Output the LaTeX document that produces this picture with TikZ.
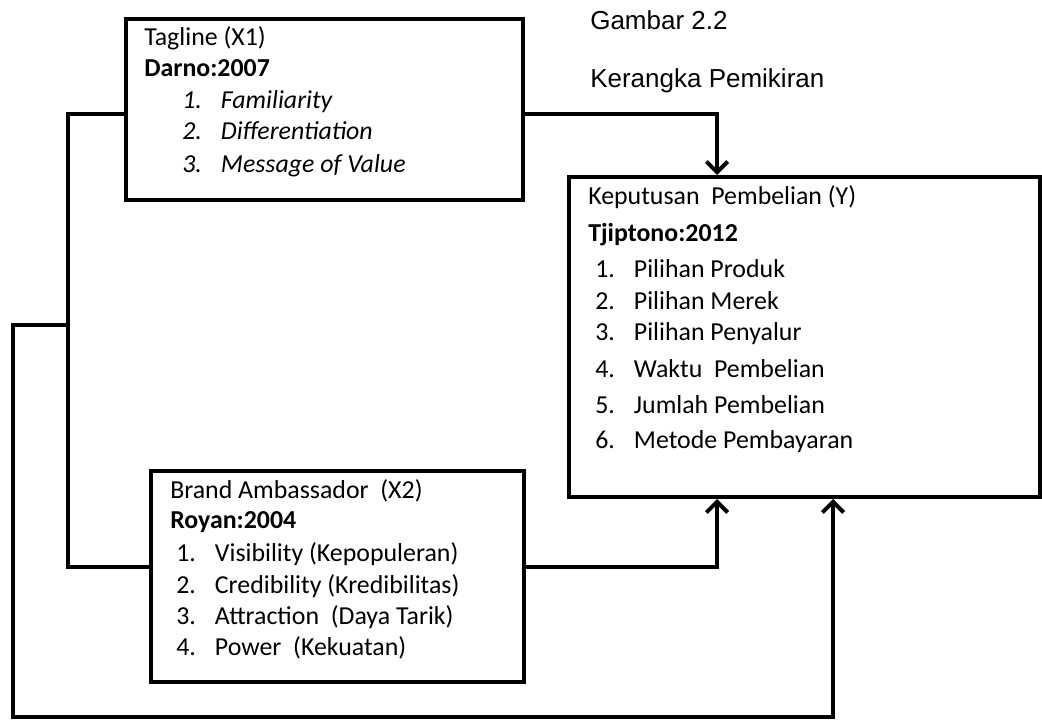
\documentclass[tikz,border=0pt]{standalone}
\usepackage{fontspec}
\setmainfont{Carlito}
\newfontfamily\arialfont{Liberation Sans}
\usetikzlibrary{arrows.meta, positioning}

% number + text of one list entry
\newcommand\butir[2]{\makebox[29pt][l]{#1}#2}

\begin{document}
\begin{tikzpicture}[
        % one unit = one pixel of the page
        x=0.75pt, y=-0.75pt,
        % the three boxes
        box/.style = {
            rectangle,
            draw=black,
            line width=3pt,
            fill=white,
            inner sep=0pt
        },
        % plain lines of text inside the boxes
        teks/.style = {
            anchor=base west,
            inner sep=0pt,
            font=\fontsize{19.4}{23}\selectfont
        },
        % author and year
        sumber/.style = {teks, font=\fontsize{19.4}{23}\selectfont\bfseries},
        % italic list of the tagline box
        miring/.style = {teks, font=\fontsize{19.4}{23}\selectfont\itshape},
        % caption at the top
        judul/.style = {
            anchor=base west,
            inner sep=0pt,
            font=\arialfont\fontsize{19.5}{23}\selectfont
        },
        % plain connector and connector with arrow
        link/.style = {line width=3pt},
        arrow/.style = {
            -{Straight Barb[length=8pt, width=16pt]},
            line width=3pt
        }
    ]

        \useasboundingbox (0,0) rectangle (1042,721);

        % 1. Boxes
        \node (tag) [box, minimum width=297.75pt, minimum height=135.75pt] at (324.5,109.5) {};
        \node (kep) [box, minimum width=353.25pt, minimum height=240pt] at (804.5,337) {};
        \node (amb) [box, minimum width=279.75pt, minimum height=158.25pt] at (337.5,576.5) {};

        % bend points of the connectors
        \coordinate (j1) at (717,114);
        \coordinate (cl) at (68,567);
        \coordinate (cj) at (68,325);
        \coordinate (cb) at (13,717);
        \coordinate (ku) at (833,717);

        % 2. Connectors
        \draw [arrow] (tag.east |- j1) -| (kep.north -| j1);
        \draw [link] (tag.west |- j1) -| (cl) -- (amb.west |- cl);
        \draw [arrow] (amb.east |- cl) -| (kep.south -| j1);
        \draw [arrow] (cj) -| (cb) -| (kep.south -| ku);

        % 3. Texts
        \node (gbr) [judul] at (590,29) {Gambar 2.2};
        \node (krk) [judul] at (590,87) {Kerangka Pemikiran};

        \node (tagH) [teks] at (144,45) {Tagline (X1)};
        \node (tagS) [sumber] at (144,76) {Darno:2007};
        \node (tag1) [miring] at (182,108) {\butir{1.}{Familiarity}};
        \node (tag2) [miring] at (182,139) {\butir{2.}{Differentiation}};
        \node (tag3) [miring] at (182,172) {\butir{3.}{Message of Value}};

        \node (kepH) [teks] at (588,204) {Keputusan\ \ Pembelian (Y)};
        \node (kepS) [sumber] at (588,241) {Tjiptono:2012};
        \node (kep1) [teks] at (595,277) {\butir{1.}{Pilihan Produk}};
        \node (kep2) [teks] at (595,309) {\butir{2.}{Pilihan Merek}};
        \node (kep3) [teks] at (595,340) {\butir{3.}{Pilihan Penyalur}};
        \node (kep4) [teks] at (595,377) {\butir{4.}{Waktu\ \ Pembelian}};
        \node (kep5) [teks] at (595,413) {\butir{5.}{Jumlah Pembelian}};
        \node (kep6) [teks] at (595,448) {\butir{6.}{Metode Pembayaran}};

        \node (ambH) [teks] at (170,498) {Brand Ambassador\ \ (X2)};
        \node (ambS) [sumber] at (170,528) {Royan:2004};
        \node (amb1) [teks] at (176,561) {\butir{1.}{Visibility (Kepopuleran)}};
        \node (amb2) [teks] at (176,593) {\butir{2.}{Credibility (Kredibilitas)}};
        \node (amb3) [teks] at (176,624) {\butir{3.}{Attraction\ \ (Daya Tarik)}};
        \node (amb4) [teks] at (176,655) {\butir{4.}{Power\ \ (Kekuatan)}};

    \end{tikzpicture}
\end{document}
